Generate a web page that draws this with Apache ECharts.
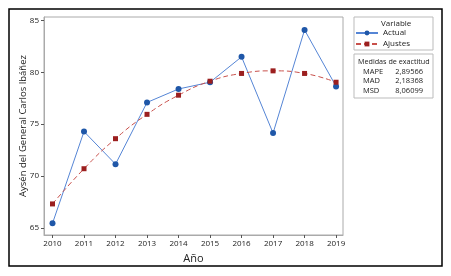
<!DOCTYPE html>
<html>
<head>
<meta charset="utf-8">
<script src="https://cdn.jsdelivr.net/npm/echarts@6/dist/echarts.min.js"></script>
<style>html,body{margin:0;padding:0;background:#fff}#c{width:451px;height:276px}</style>
</head>
<body>
<div id="c"></div>
<script>
var years = [2010, 2011, 2012, 2013, 2014, 2015, 2016, 2017, 2018, 2019];
var actual = [65.43, 74.29, 71.14, 77.1, 78.4, 79.05, 81.5, 74.14, 84.1, 78.65];
var fitted = [67.3, 70.7, 73.6, 75.95, 77.8, 79.15, 79.9, 80.15, 79.9, 79.05];
var yTicks = [65, 70, 75, 80, 85];
var accuracyNames = ['MAPE', 'MAD', 'MSD'];
var accuracyValues = ['2,89566', '2,18368', '8,06099'];

var FONT = '"Open Sans", "Noto Sans", sans-serif';
function pairs(xs, ys) { return xs.map(function (x, i) { return [x, ys[i]]; }); }

var chart = echarts.init(document.getElementById('c'), null, {renderer: 'canvas'});
var graphics = [
  {type: 'rect', x: 9, y: 9, shape: {x: 0, y: 0, width: 433, height: 257}, style: {fill: 'none', stroke: '#000', lineWidth: 1.5}, z: 10},
  {type: 'rect', x: 354, y: 17, shape: {x: 0, y: 0, width: 79, height: 33}, style: {fill: 'none', stroke: '#bbb', lineWidth: 1}},
  {type: 'text', x: 381, y: 20, style: {text: 'Variable', font: '8px ' + FONT, fill: '#222', verticalAlign: 'top'}},
  {type: 'rect', x: 354, y: 54, shape: {x: 0, y: 0, width: 79, height: 44}, style: {fill: 'none', stroke: '#bbb', lineWidth: 1}},
  {type: 'text', x: 358, y: 58, style: {text: 'Medidas de exactitud', font: '7.2px ' + FONT, fill: '#222', verticalAlign: 'top'}}
];
accuracyNames.forEach(function (n, i) {
  graphics.push({type: 'text', x: 363, y: 67.5 + i * 9.5, style: {text: n, font: '7.5px ' + FONT, fill: '#222', verticalAlign: 'top'}});
  graphics.push({type: 'text', x: 423, y: 67.5 + i * 9.5, style: {text: accuracyValues[i], font: '7.5px ' + FONT, fill: '#222', align: 'right', verticalAlign: 'top'}});
});

chart.setOption({
  animation: false,
  textStyle: {fontFamily: FONT},
  grid: {left: 44, top: 17, right: 108, bottom: 41, show: true, borderColor: '#aaa', borderWidth: 1},
  legend: {
    data: ['Actual', 'Ajustes'], orient: 'vertical', left: 355, top: 29, padding: 0,
    itemWidth: 22, itemHeight: 6, itemGap: 3,
    textStyle: {fontSize: 8, color: '#222', fontFamily: FONT}
  },
  xAxis: {
    type: 'value', min: 2009.73, max: 2019.22,
    name: 'Año', nameLocation: 'middle', nameGap: 17,
    nameTextStyle: {fontSize: 11, color: '#222', fontFamily: FONT},
    axisLine: {show: true, lineStyle: {color: '#aaa'}},
    axisTick: {show: true, length: 3, customValues: years, lineStyle: {color: '#555'}},
    axisLabel: {customValues: years, fontSize: 8, color: '#222', margin: 5, formatter: function (v) { return String(v); }},
    splitLine: {show: false}
  },
  yAxis: {
    type: 'value', min: 64.3, max: 85.35,
    name: 'Aysén del General Carlos Ibáñez', nameLocation: 'middle', nameGap: 16, nameRotate: 90,
    nameMoveOverlap: false,
    nameTextStyle: {fontSize: 9.5, color: '#222', fontFamily: FONT},
    axisLine: {show: true, lineStyle: {color: '#aaa'}},
    axisTick: {show: true, length: 3, customValues: yTicks, lineStyle: {color: '#555'}},
    axisLabel: {customValues: yTicks, fontSize: 8, color: '#222', margin: 5},
    splitLine: {show: false}
  },
  series: [
    {
      name: 'Actual', type: 'line', data: pairs(years, actual),
      symbol: 'circle', symbolSize: 6,
      lineStyle: {color: '#5585d5', width: 1},
      itemStyle: {color: '#1f57a8'}
    },
    {
      name: 'Ajustes', type: 'line', data: pairs(years, fitted), smooth: true,
      symbol: 'rect', symbolSize: 5,
      lineStyle: {color: '#c8504b', width: 1, type: [5, 3]},
      itemStyle: {color: '#9b1f1f'}
    }
  ],
  graphic: graphics
});
</script>
</body>
</html>
